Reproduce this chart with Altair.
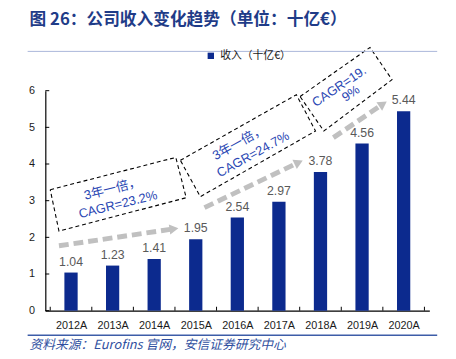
import math
import altair as alt
import pandas as pd

# ---------------- data ----------------
years = ["2012A", "2013A", "2014A", "2015A", "2016A", "2017A", "2018A", "2019A", "2020A"]
revenue = [1.04, 1.23, 1.41, 1.95, 2.54, 2.97, 3.78, 4.56, 5.44]
y_ticks = [0, 1, 2, 3, 4, 5, 6]
series_name = "收入（十亿€）"
title_text = "图 26：公司收入变化趋势（单位：十亿€）"
source_text = "资料来源：Eurofins 官网，安信证券研究中心"

# annotation boxes (x = category index position 0..9, y = value units)
box_ids = ["b1", "b2", "b3"]
box_x = [[0.0, 3.02, 3.27, 0.21], [3.13, 5.92, 6.38, 3.61], [6.01, 7.69, 8.22, 6.58]]
box_y = [[3.30, 4.18, 3.08, 2.17], [4.10, 5.89, 4.90, 3.11], [5.84, 7.18, 6.30, 4.90]]

# annotation texts
note_text = ["3年一倍，", "CAGR=23.2%", "3年一倍，", "CAGR=24.7%", "CAGR=19.", "9%"]
note_x = [1.50, 1.63, 4.54, 4.88, 6.95, 7.23]
note_y = [3.32, 2.89, 4.58, 4.26, 6.11, 5.92]
note_angle = [346, 346, 331, 331, 326, 326]

# growth arrows: start and tip
arrow_start_x = [0.21, 3.71, 6.81]
arrow_start_y = [1.77, 2.81, 4.72]
arrow_tip_x = [3.09, 6.08, 8.10]
arrow_tip_y = [2.25, 4.10, 5.71]

# ---------------- layout ----------------
W, H = 391, 224
NX = len(years)
YMAX = 6
PXX = W / NX
PXY = H / YMAX

BAR = "#0c2a8e"
NOTE = "#2a47b3"
ARROW = "#c0c0c0"
FONT = "Liberation Sans, Noto Sans CJK SC, sans-serif"
CJK = "Noto Sans CJK SC, Liberation Sans, sans-serif"

bars_df = pd.DataFrame({"year": years, "pos": [i + 0.5 for i in range(NX)],
                        "rev": revenue, "series": series_name})

box_rows = []
for bid, xs, ys in zip(box_ids, box_x, box_y):
    for i in range(5):
        box_rows.append({"id": bid, "seq": i, "x": xs[i % 4], "y": ys[i % 4]})
box_df = pd.DataFrame(box_rows)

note_df = pd.DataFrame({"t": note_text, "x": note_x, "y": note_y, "a": note_angle})

arrow_rows, head_rows = [], []
for k, (sx, sy, tx, ty) in enumerate(zip(arrow_start_x, arrow_start_y, arrow_tip_x, arrow_tip_y)):
    dxp = (tx - sx) * PXX
    dyp = -(ty - sy) * PXY
    L = math.hypot(dxp, dyp)
    ux, uy = dxp / L, dyp / L
    end_x = tx - 9 * ux / PXX
    end_y = ty + 9 * uy / PXY
    hx = tx - 5 * ux / PXX
    hy = ty + 5 * uy / PXY
    ang = math.degrees(math.atan2(dyp, dxp)) % 360
    arrow_rows += [{"id": k, "seq": 0, "x": sx, "y": sy}, {"id": k, "seq": 1, "x": end_x, "y": end_y}]
    head_rows.append({"x": hx, "y": hy, "a": ang})
arrow_df = pd.DataFrame(arrow_rows)
head_df = pd.DataFrame(head_rows)

ytick_df = pd.DataFrame({"y": y_ticks})
xtick_df = pd.DataFrame({"x": list(range(NX + 1))})
one = pd.DataFrame({"k": [0]})

yscale = alt.Scale(domain=[0, YMAX], nice=False)
xscale = alt.Scale(domain=[0, NX], nice=False, zero=False)

year_js = "[" + ",".join("'%s'" % y for y in years) + "]"

AX = alt.Axis(values=[i + 0.5 for i in range(NX)],
              labelExpr=year_js + "[floor(datum.value)]",
              ticks=False, grid=False, labelPadding=9, labelFontSize=11,
              labelColor="#1a1a1a", labelFont=FONT, domainColor="#000000",
              domainWidth=1.2, labelFlush=False, labelOverlap=False)
AY = alt.Axis(values=y_ticks, ticks=False, labelPadding=11, labelFontSize=11,
              labelColor="#1a1a1a", labelFont=FONT, grid=False, labelOverlap=False,
              domainColor="#000000", domainWidth=1.2)


def X(f="x:Q"):
    return alt.X(f, scale=xscale, title=None, axis=AX)


def Y(f="y:Q"):
    return alt.Y(f, scale=yscale, title=None, axis=AY)


# ---------------- bars ----------------
bars = alt.Chart(bars_df).mark_bar(color=BAR, width=13.5).encode(
    x=X("pos:Q"), y=Y("rev:Q"),
    color=alt.Color("series:N", scale=alt.Scale(domain=[series_name], range=[BAR]),
                    legend=alt.Legend(orient="none", legendX=163, legendY=-41, title=None,
                                      symbolType="square", symbolSize=42, labelFontSize=11,
                                      labelFont=CJK, labelColor="#1a1a1a", padding=0,
                                      labelOffset=4, symbolStrokeWidth=0)),
)
labels = alt.Chart(bars_df).mark_text(dy=-7, fontSize=12.5, color="#595959", font=FONT,
                                      baseline="alphabetic").encode(
    x=X("pos:Q"), y=Y("rev:Q"), text=alt.Text("rev:Q", format=".2f"))

# ---------------- annotations ----------------
boxes = alt.Chart(box_df).mark_line(color="#000000", strokeWidth=1.1, strokeDash=[4, 3]).encode(
    x=X(), y=Y(), detail="id:N", order="seq:Q")
arrows = alt.Chart(arrow_df).mark_line(color=ARROW, strokeWidth=5, strokeDash=[10, 5]).encode(
    x=X(), y=Y(), detail="id:N", order="seq:Q")
heads = alt.Chart(head_df).mark_point(shape="triangle-right", filled=True, color=ARROW,
                                      size=110, opacity=1).encode(
    x=X(), y=Y(), angle=alt.Angle("a:Q", scale=None))
notes = alt.Chart(note_df).mark_text(color=NOTE, fontSize=13, font=FONT).encode(
    x=X(), y=Y(), text="t:N", angle=alt.Angle("a:Q", scale=None))
yticks = alt.Chart(ytick_df).mark_rule(color="#000000", strokeWidth=1).encode(
    x=alt.value(0), x2=alt.value(4), y=Y())
xticks = alt.Chart(xtick_df).mark_rule(color="#000000", strokeWidth=1).encode(
    x=X(), y=alt.value(H - 4), y2=alt.value(H))

title = alt.Chart(one).mark_text(text=title_text, align="left", baseline="middle",
                                 fontSize=17, fontWeight="bold", color="#1f3c88",
                                 font=CJK).encode(x=alt.value(-16), y=alt.value(-72))
top_line = alt.Chart(one).mark_rule(color="#a9b6d9", strokeWidth=1).encode(
    x=alt.value(-18), x2=alt.value(399), y=alt.value(-40))
bottom_line = alt.Chart(one).mark_rule(color="#3d5da8", strokeWidth=1.5).encode(
    x=alt.value(-18), x2=alt.value(399), y=alt.value(249))
source = alt.Chart(one).mark_text(text=source_text, align="left", baseline="middle",
                                  fontSize=13, fontStyle="italic", color="#2f4fa0",
                                  font=CJK).encode(x=alt.value(-16), y=alt.value(259))

chart = alt.layer(bars, labels, boxes, arrows, heads, notes, yticks, xticks,
                  title, top_line, bottom_line, source).properties(
    width=W, height=H,
    background="white",
    autosize=alt.AutoSizeParams(type="none"),
    padding={"left": 38, "top": 81, "right": 19, "bottom": 45},
).configure_view(stroke=None).configure_axis(grid=False)

chart.save("out.html", embed_options={"renderer": "svg", "actions": False})
